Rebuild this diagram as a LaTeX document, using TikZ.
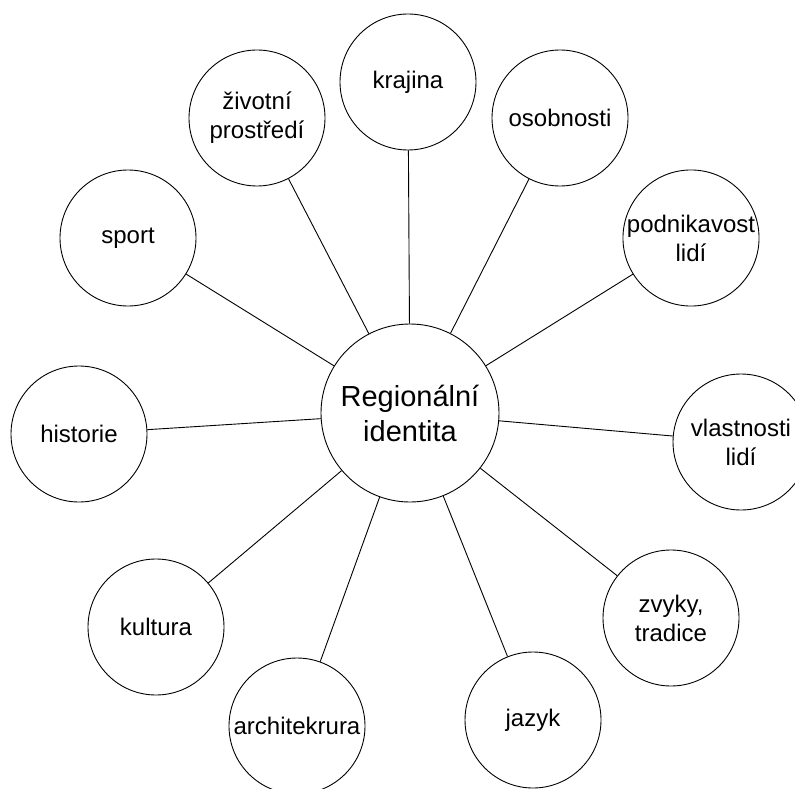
\documentclass[tikz,border=0pt]{standalone}
\usepackage{fontspec}
\setmainfont{Liberation Sans}
\begin{document}
\begin{tikzpicture}[x=1pt,y=-1pt,line width=0.9pt,
		bubble/.style={circle,draw,minimum size=136pt,inner sep=0pt,align=center,font=\fontsize{24}{29}\selectfont},
		hub/.style={bubble,minimum size=178pt,font=\fontsize{29}{35}\selectfont}]
	\useasboundingbox (0,0) rectangle (795,789);
	\node[hub] (reg) at (410,413) {Regionální\\identita};
	\node[bubble] (krajina) at (408,82) {krajina};
	\node[bubble] (osobnosti) at (560,118) {osobnosti};
	\node[bubble] (zivotni) at (257,118) {životní\\prostředí};
	\node[bubble] (sport) at (128,238) {sport};
	\node[bubble] (podnik) at (691,238) {podnikavost\\lidí};
	\node[bubble] (historie) at (79,434) {historie};
	\node[bubble] (vlastnosti) at (741,442) {vlastnosti\\lidí};
	\node[bubble] (kultura) at (156,627) {kultura};
	\node[bubble] (zvyky) at (671,618) {zvyky,\\tradice};
	\node[bubble] (archit) at (297,726) {architekrura};
	\node[bubble] (jazyk) at (533,720) {jazyk};
	\foreach \n in {krajina,osobnosti,zivotni,sport,podnik,historie,vlastnosti,kultura,zvyky,archit,jazyk}
		\draw (reg) -- (\n);
\end{tikzpicture}
\end{document}
